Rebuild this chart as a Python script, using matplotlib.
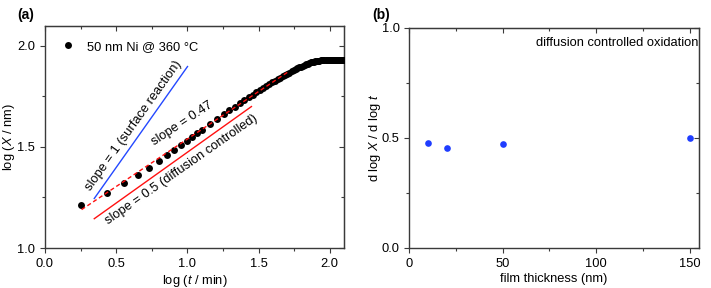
import matplotlib
matplotlib.use("Agg")
import matplotlib.pyplot as plt
from matplotlib.ticker import MultipleLocator

plt.rcParams['font.family'] = ['Liberation Sans', 'DejaVu Sans']
plt.rcParams['mathtext.fontset'] = 'custom'
plt.rcParams['mathtext.it'] = 'Liberation Sans:italic'
plt.rcParams['mathtext.rm'] = 'Liberation Sans'

# ---- data, panel (a) ----
log_t = [0.250, 0.433, 0.554, 0.655, 0.732, 0.800, 0.854, 0.907, 0.954, 0.996,
         1.034, 1.071, 1.104, 1.158, 1.209, 1.254, 1.293,
         1.332, 1.367, 1.400, 1.430, 1.458, 1.484, 1.509, 1.533, 1.555, 1.576,
         1.597, 1.616, 1.634, 1.652, 1.669, 1.686, 1.702, 1.717, 1.732, 1.746,
         1.760, 1.773, 1.786, 1.799, 1.811, 1.823, 1.834, 1.846, 1.857, 1.867,
         1.878, 1.888, 1.898, 1.908, 1.918, 1.927, 1.936, 1.945, 1.954, 1.962,
         1.971, 1.979, 1.987, 1.995, 2.003, 2.011, 2.018, 2.026, 2.033, 2.040,
         2.047, 2.054, 2.061, 2.068, 2.074, 2.081, 2.087, 2.094, 2.100]
log_X = [1.211, 1.273, 1.322, 1.362, 1.398, 1.432, 1.462, 1.487, 1.510, 1.530,
         1.550, 1.567, 1.583, 1.613, 1.640, 1.662, 1.682,
         1.700, 1.716, 1.731, 1.745, 1.758, 1.770, 1.781, 1.792, 1.802, 1.811,
         1.820, 1.828, 1.836, 1.843, 1.850, 1.856, 1.862, 1.868, 1.874, 1.879,
         1.884, 1.889, 1.894, 1.898, 1.902, 1.906, 1.909, 1.912, 1.915, 1.918,
         1.920, 1.922, 1.924, 1.925, 1.926, 1.927, 1.928, 1.928, 1.928, 1.928,
         1.928, 1.928, 1.928, 1.928, 1.928, 1.928, 1.928, 1.928, 1.928, 1.928,
         1.928, 1.928, 1.928, 1.928, 1.928, 1.928, 1.928, 1.928, 1.928]

fit_x = [0.257, 1.706]          # dashed fit, slope 0.47
fit_y = [1.190, 1.871]
surf_x = [0.346, 1.001]         # slope = 1 guide
surf_y = [1.245, 1.898]
diff_x = [0.346, 1.450]         # slope = 0.5 guide
diff_y = [1.145, 1.700]

# ---- data, panel (b) ----
thickness = [10, 20, 50, 150]
slope_vals = [0.475, 0.454, 0.472, 0.498]

W, H = 711, 288
fig = plt.figure(figsize=(W / 100, H / 100), dpi=100)

spine_col = '#3a3a3a'
fs = 9.3


def tick_style(a):
    a.tick_params(which='major', length=3.5, width=0.8)
    a.tick_params(which='minor', length=2, width=0.8)


def mirror(ax, xmaj, xmin, ymaj, ymin):
    t = ax.secondary_xaxis('top')
    t.xaxis.set_major_locator(MultipleLocator(xmaj))
    t.xaxis.set_minor_locator(MultipleLocator(xmin))
    t.tick_params(which='both', direction='in', labeltop=False, color=spine_col)
    tick_style(t)
    t.spines['top'].set_color(spine_col)
    r = ax.secondary_yaxis('right')
    r.yaxis.set_major_locator(MultipleLocator(ymaj))
    r.yaxis.set_minor_locator(MultipleLocator(ymin))
    r.tick_params(which='both', direction='in', labelright=False, color=spine_col)
    tick_style(r)
    r.spines['right'].set_color(spine_col)


# panel (a)
axa = fig.add_axes([45 / W, 1 - 248 / H, 299 / W, 222.3 / H])
axa.set_xlim(0, 2.1)
axa.set_ylim(1.0, 2.1)
for s in axa.spines.values():
    s.set_color(spine_col)
    s.set_linewidth(1.0)
axa.xaxis.set_major_locator(MultipleLocator(0.5))
axa.xaxis.set_minor_locator(MultipleLocator(0.25))
axa.yaxis.set_major_locator(MultipleLocator(0.5))
axa.yaxis.set_minor_locator(MultipleLocator(0.25))
axa.tick_params(which='both', labelsize=fs, color=spine_col)
tick_style(axa)

axa.plot(surf_x, surf_y, color='#2448ff', lw=1.0)
axa.plot(diff_x, diff_y, color='#ff1010', lw=1.0)
axa.plot(log_t, log_X, 'o', color='black', ms=5, mec='black', mew=0,
         label='50 nm Ni @ 360 °C', zorder=3)
axa.plot(fit_x, fit_y, color='#ff1010', lw=1.0, ls=(0, (3, 2)), zorder=4)

axa.text(0.62, 1.607, 'slope = 1 (surface reaction)', rotation=54.5,
         rotation_mode='anchor', ha='center', va='center', fontsize=fs)
axa.text(0.965, 1.615, 'slope = 0.47', rotation=33.4,
         rotation_mode='anchor', ha='center', va='center', fontsize=fs)
axa.text(0.959, 1.39, 'slope = 0.5 (diffusion controlled)', rotation=35.0,
         rotation_mode='anchor', ha='center', va='center', fontsize=fs)

axa.legend(loc='center left', bbox_to_anchor=(0.055, 0.9055), frameon=False,
           borderpad=0, borderaxespad=0, handlelength=1.0, handletextpad=0.95,
           fontsize=fs)

axa.set_xlabel('log ($\\mathit{t}$ / min)', fontsize=fs)
axa.set_ylabel('log ($\\mathit{X}$ / nm)', fontsize=fs)
axa.xaxis.set_label_coords(0.5, -0.112)
axa.yaxis.set_label_coords(-0.093, 0.5)
mirror(axa, 0.5, 0.25, 0.5, 0.25)

# panel (b)
axb = fig.add_axes([409.3 / W, 1 - 248 / H, 289.7 / W, 220.3 / H])
axb.set_xlim(0, 155)
axb.set_ylim(0, 1.0)
for s in axb.spines.values():
    s.set_color(spine_col)
    s.set_linewidth(1.0)
axb.xaxis.set_major_locator(MultipleLocator(50))
axb.xaxis.set_minor_locator(MultipleLocator(25))
axb.yaxis.set_major_locator(MultipleLocator(0.5))
axb.yaxis.set_minor_locator(MultipleLocator(0.25))
axb.tick_params(which='both', labelsize=fs, color=spine_col)
tick_style(axb)

axb.plot(thickness, slope_vals, 'o', color='#1f3dff', ms=4.8, mew=0)
axb.text(0.9966, 0.929, 'diffusion controlled oxidation', transform=axb.transAxes,
         ha='right', va='center', fontsize=fs)

axb.set_xlabel('film thickness (nm)', fontsize=fs)
axb.set_ylabel('d log $\\mathit{X}$ / d log $\\mathit{t}$', fontsize=fs)
axb.xaxis.set_label_coords(0.5, -0.112)
axb.yaxis.set_label_coords(-0.092, 0.5)
mirror(axb, 50, 25, 0.5, 0.25)

fig.text(17 / W, 1 - 15 / H, '(a)', fontsize=10, fontweight='bold', va='center')
fig.text(372 / W, 1 - 15 / H, '(b)', fontsize=10, fontweight='bold', va='center')

fig.savefig('out.png', dpi=100)
